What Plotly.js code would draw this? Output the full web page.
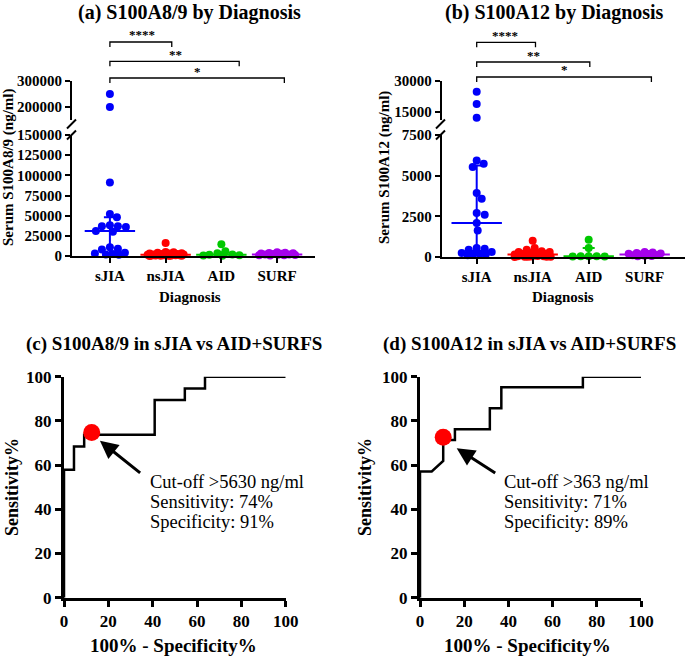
<!DOCTYPE html>
<html>
<head>
<meta charset="utf-8">
<script src="https://cdn.plot.ly/plotly-3.0.1.min.js"></script>
<style>
html, body { margin: 0; padding: 0; background: #fff; }
#graph { width: 685px; height: 656px; }
</style>
</head>
<body>
<div id="graph"></div>
<script>
// ---- data ----
var categories = ['sJIA', 'nsJIA', 'AID', 'SURF'];
var groupColors = ['rgb(0,0,250)', 'rgb(255,0,0)', 'rgb(0,200,0)', 'rgb(165,0,235)'];

// (a) serum S100A8/9, ng/ml
var a89_sJIA = [250000, 200000, 91000, 52000, 48000, 38000, 37000, 37000, 36000, 31000, 30000,
                11000, 9000, 8000, 4000, 3000, 2500, 2000, 1500];
var a89_nsJIA = [16000, 5000, 4500, 4000, 3500, 3000, 3000, 2500, 2500, 2000, 2000, 1800, 1500,
                 1500, 1200, 1000, 1000, 800, 700, 500, 400, 300, 300, 200, 100];
var a89_AID = [14500, 6000, 3500, 2000, 1500, 800, 500, 300];
var a89_SURF = [4500, 4000, 3800, 3500, 3000, 2800, 2500, 2000, 1800, 1500, 1200, 1000, 800, 500];
var a89_median = [31000, 1500, 1700, 2000];
var a89_q1 = [3000, 400, 500, 1000];
var a89_q3 = [48000, 3000, 4750, 3500];

// (b) serum S100A12, ng/ml
var a12_sJIA = [24700, 18700, 12100, 5930, 5730, 5530, 3930, 3580, 2700, 2600, 2090, 1630,
                550, 500, 450, 300, 250, 200, 200, 150, 100];
var a12_nsJIA = [1000, 550, 450, 350, 300, 300, 250, 250, 200, 200, 150, 150, 120, 100, 100,
                 80, 60, 50, 40, 30, 20, 20, 10, 10, 5];
var a12_AID = [1060, 550, 50, 40, 40, 30, 30];
var a12_SURF = [300, 280, 250, 220, 200, 180, 150, 120, 100, 80, 60, 50];
var a12_median = [2090, 150, 40, 150];
var a12_q1 = [200, 40, 30, 80];
var a12_q3 = [5630, 450, 550, 250];

var sigLabels = ['****', '**', '*'];

// (c) ROC S100A8/9, sJIA vs AID+SURFS
var rocC_fpr = [0, 0, 4.5, 4.5, 9.1, 9.1, 40.9, 40.9, 54.5, 54.5, 63.6, 63.6, 100];
var rocC_tpr = [0, 57.9, 57.9, 68.4, 68.4, 73.7, 73.7, 89.5, 89.5, 94.7, 94.7, 100, 100];
var cutC = [12.5, 74.7];
var textC = ['Cut-off &gt;5630 ng/ml', 'Sensitivity: 74%', 'Specificity: 91%'];

// (d) ROC S100A12, sJIA vs AID+SURFS
var rocD_fpr = [0, 0, 5.3, 10.5, 10.5, 15.8, 15.8, 31.6, 31.6, 36.8, 36.8, 73.7, 73.7, 100];
var rocD_tpr = [0, 57.1, 57.1, 61.9, 71.4, 71.4, 76.2, 76.2, 85.7, 85.7, 95.2, 95.2, 100, 100];
var cutD = [10.5, 72.6];
var textD = ['Cut-off &gt;363 ng/ml', 'Sensitivity: 71%', 'Specificity: 89%'];

// ---- helpers ----
var FONT = 'Liberation Serif, Times New Roman, serif';
function px(x) { return x / 685; }
function py(y) { return 1 - y / 656; }

function axis(extra) {
    var ax = {
        showline: true, linecolor: 'black', linewidth: 2,
        ticks: 'outside', ticklen: 5, tickwidth: 2, tickcolor: 'black',
        showgrid: false, zeroline: false, fixedrange: true,
        tickfont: {family: FONT, size: 15, color: 'black', weight: 'bold'}
    };
    for (var k in extra) ax[k] = extra[k];
    return ax;
}
var rocTickFont = {family: FONT, size: 17, color: 'black', weight: 'bold'};

// spread points sideways like a scatter dot plot (pixel offsets, capped at halfW)
function swarm(vals, pxPerY, halfW, dia) {
    var placed = [], out = [];
    vals.forEach(function (v) {
        var y = v * pxPerY, best = 0, bestScore = -1;
        for (var c = 0; c <= halfW; c++) {
            [c, -c].forEach(function (x) {
                var m = dia;
                placed.forEach(function (p) {
                    var d = Math.sqrt((p.x - x) * (p.x - x) + (p.y - y) * (p.y - y));
                    if (d < m) m = d;
                });
                if (m > bestScore + 0.01) { bestScore = m; best = x; }
            });
            if (bestScore >= dia) break;
        }
        placed.push({x: best, y: y});
        out.push(best);
    });
    return out;
}

var traces = [];
var shapes = [];
var annotations = [];

function dotPanel(groups, median, q1, q3, brk, xa, yLow, yHigh, pxPerX, pxLow, pxHigh) {
    for (var g = 0; g < groups.length; g++) {
        var low = groups[g].filter(function (v) { return v <= brk; });
        var high = groups[g].filter(function (v) { return v > brk; });
        [[low, yLow, pxLow], [high, yHigh, pxHigh]].forEach(function (part) {
            if (!part[0].length) return;
            var offs = swarm(part[0], part[2], 18, 7.5);
            traces.push({
                type: 'scatter', mode: 'markers', xaxis: xa, yaxis: part[1], y: part[0],
                x: offs.map(function (o) { return g + o / pxPerX; }),
                marker: {color: groupColors[g], size: 8}, cliponaxis: false, hoverinfo: 'y'
            });
        });
    }
    for (var i = 0; i < groups.length; i++) {
        traces.push({
            type: 'scatter', mode: 'markers', x: [i], y: [median[i]],
            xaxis: xa, yaxis: yLow, cliponaxis: false, hoverinfo: 'y',
            marker: {symbol: 'line-ew', size: 36, line: {width: 2, color: groupColors[i]}},
            error_y: {type: 'data', symmetric: false, array: [q3[i] - median[i]],
                      arrayminus: [median[i] - q1[i]], color: groupColors[i],
                      thickness: 2, width: 6}
        });
    }
}

// pixel scales follow the axis domains/ranges set in the layout below
dotPanel([a89_sJIA, a89_nsJIA, a89_AID, a89_SURF], a89_median, a89_q1, a89_q3, 150000,
         'x', 'y', 'y2', 243 / 4.36, 121 / 150000, 39 / 150000);
dotPanel([a12_sJIA, a12_nsJIA, a12_AID, a12_SURF], a12_median, a12_q1, a12_q3, 7500,
         'x2', 'y3', 'y4', 243.3 / 4.345, 122 / 7500, 39.3 / 19000);

function rocPanel(fpr, tpr, cut, xa, ya) {
    traces.push({
        type: 'scatter', mode: 'lines', x: fpr, y: tpr, xaxis: xa, yaxis: ya,
        line: {color: 'black', width: 2.5}, cliponaxis: false, hoverinfo: 'x+y'
    });
    traces.push({
        type: 'scatter', mode: 'markers', x: [cut[0]], y: [cut[1]], xaxis: xa, yaxis: ya,
        marker: {color: 'rgb(255,0,0)', size: 17}, cliponaxis: false, hoverinfo: 'x+y'
    });
}
rocPanel(rocC_fpr, rocC_tpr, cutC, 'x3', 'y5');
rocPanel(rocD_fpr, rocD_tpr, cutD, 'x4', 'y6');

// significance brackets
function brackets(xref, ends, ys, starX) {
    for (var i = 0; i < ends.length; i++) {
        var yt = py(ys[i]), yb = py(ys[i] + 5);
        shapes.push({
            type: 'path', xref: xref, yref: 'paper',
            path: 'M 0,' + yb + ' L 0,' + yt + ' L ' + ends[i] + ',' + yt + ' L ' + ends[i] + ',' + yb,
            line: {color: 'black', width: 1.3}
        });
        annotations.push({
            xref: 'paper', yref: 'paper', x: px(starX[i]), y: py(ys[i] - 7),
            xanchor: 'center', yanchor: 'middle', showarrow: false, text: sigLabels[i],
            font: {family: FONT, size: 13, color: 'black', weight: 'bold'}
        });
    }
}
brackets('x', [1.11, 2.32, 3.13], [42, 61.3, 78], [141.7, 175, 197.7]);
brackets('x2', [1.05, 2.02, 3.12], [42.3, 62, 77], [505, 533, 564]);

// axis break marks
function breakMarks(xc) {
    [[128.5, 119.5], [139.5, 130.5]].forEach(function (s) {
        shapes.push({
            type: 'line', xref: 'paper', yref: 'paper',
            x0: px(xc - 4.5), x1: px(xc + 4.5), y0: py(s[0]), y1: py(s[1]),
            line: {color: 'black', width: 2}
        });
    });
}
breakMarks(71.5);
breakMarks(440.5);

function label(text, x, y, size, angle, weight) {
    annotations.push({
        xref: 'paper', yref: 'paper', x: px(x), y: py(y), xanchor: 'center', yanchor: 'middle',
        showarrow: false, text: text, textangle: angle || 0,
        font: {family: FONT, size: size, color: 'black', weight: weight || 'bold'}
    });
}
label('(a) S100A8/9 by Diagnosis', 189, 12.5, 20);
label('(b) S100A12 by Diagnosis', 554, 12.5, 20);
label('(c) S100A8/9 in sJIA vs AID+SURFS', 174, 344, 19);
label('(d) S100A12 in sJIA vs AID+SURFS', 529, 344, 19);
label('Diagnosis', 190, 297, 15);
label('Diagnosis', 562.5, 297, 15);
label('Serum S100A8/9 (ng/ml)', 8, 167, 15, -90);
label('Serum S100A12 (ng/ml)', 384, 168, 15, -90);
label('100% - Specificity%', 174, 645, 19);
label('100% - Specificity%', 527, 645, 19);
label('Sensitivity%', 12, 487, 18, -90);
label('Sensitivity%', 365, 487, 18, -90);

function cutNote(lines, xa, ya, head, ax, ay, left) {
    annotations.push({
        xref: xa, yref: ya, x: head[0], y: head[1], ax: ax, ay: ay, text: '',
        showarrow: true, arrowhead: 2, arrowsize: 1.2, arrowwidth: 3, arrowcolor: 'black', standoff: 0
    });
    for (var i = 0; i < lines.length; i++) {
        annotations.push({
            xref: 'paper', yref: 'paper', x: px(left), y: py(482 + 20 * i),
            xanchor: 'left', yanchor: 'middle', showarrow: false, text: lines[i],
            font: {family: FONT, size: 18.5, color: 'black'}
        });
    }
}
cutNote(textC, 'x3', 'y5', [16.2, 71.0], 41.7, 33.3, 147.7);
cutNote(textD, 'x4', 'y6', [16.6, 67.6], 40, 25.7, 502.3);

var rocAxis = {linewidth: 3, tickwidth: 3, ticklen: 6, tickfont: rocTickFont, range: [0, 100], dtick: 20};
function roc(extra) { return axis(Object.assign({}, rocAxis, extra)); }

var layout = {
    width: 685, height: 656,
    margin: {l: 0, r: 0, t: 0, b: 0},
    paper_bgcolor: 'white', plot_bgcolor: 'white',
    showlegend: false,
    font: {family: FONT, color: 'black'},
    xaxis: axis({type: 'linear', domain: [px(72), px(315)], anchor: 'y', range: [-0.68, 3.68],
                 tickvals: [0, 1, 2, 3], ticktext: categories}),
    yaxis: axis({domain: [py(256), py(135)], anchor: 'x', range: [0, 150000], dtick: 25000, tickformat: 'd'}),
    yaxis2: axis({domain: [py(120), py(81)], anchor: 'x', range: [150000, 300000],
                  tickvals: [200000, 300000], tickformat: 'd'}),
    xaxis2: axis({type: 'linear', domain: [px(441.7), 1], anchor: 'y3', range: [-0.625, 3.72],
                  tickvals: [0, 1, 2, 3], ticktext: categories}),
    yaxis3: axis({domain: [py(257), py(135)], anchor: 'x2', range: [0, 7500], dtick: 2500, tickformat: 'd'}),
    yaxis4: axis({domain: [py(120), py(80.7)], anchor: 'x2', range: [11000, 30000],
                  tickvals: [15000, 30000], tickformat: 'd'}),
    xaxis3: roc({domain: [px(64), px(285.7)], anchor: 'y5'}),
    yaxis5: roc({domain: [py(597.7), py(376.7)], anchor: 'x3'}),
    xaxis4: roc({domain: [px(420), px(641)], anchor: 'y6'}),
    yaxis6: roc({domain: [py(597.7), py(376.7)], anchor: 'x4'}),
    shapes: shapes,
    annotations: annotations
};

Plotly.newPlot('graph', traces, layout, {displayModeBar: false, staticPlot: true});
</script>
</body>
</html>
